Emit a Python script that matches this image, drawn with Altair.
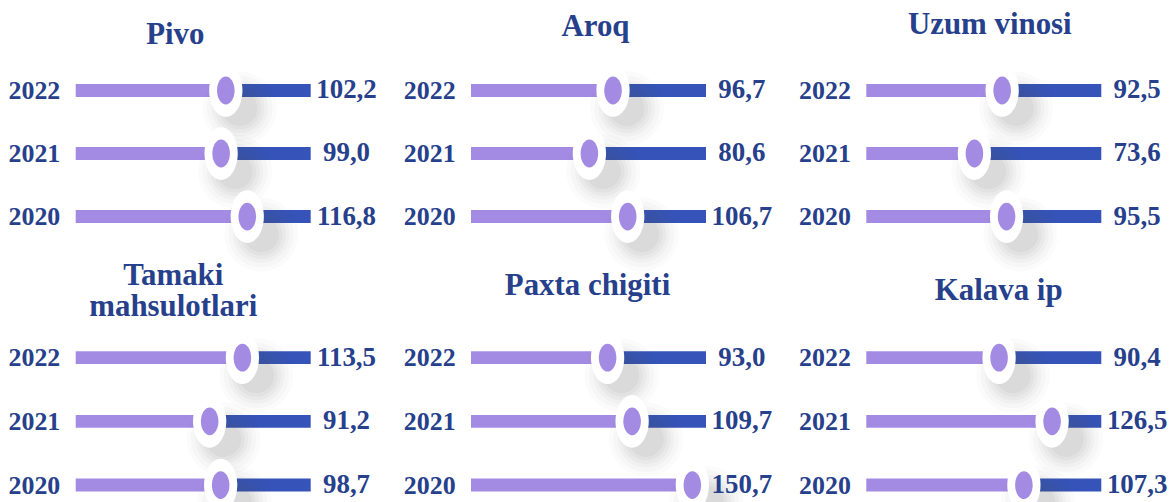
import altair as alt
import pandas as pd

# ---- data ----
years = ["2022", "2021", "2020"]
titles = ["Pivo", "Aroq", "Uzum vinosi", ["Tamaki", "mahsulotlari"], "Paxta chigiti", "Kalava ip"]
pivo = [102.2, 99.0, 116.8]
aroq = [96.7, 80.6, 106.7]
uzum_vinosi = [92.5, 73.6, 95.5]
tamaki = [113.5, 91.2, 98.7]
paxta_chigiti = [93.0, 109.7, 150.7]
kalava_ip = [90.4, 126.5, 107.3]
series = [pivo, aroq, uzum_vinosi, tamaki, paxta_chigiti, kalava_ip]
x_max = 160

# ---- style ----
NAVY = "#26408c"
LIGHT = "#a38be4"
DARK = "#3553b8"
FONT = "Liberation Serif"
ELLIPSE = "M0,-1A0.63,1 0 1,1 0,1A0.63,1 0 1,1 0,-1Z"
title_offsets = [8, 16, 18, 3, 24, 19]
title_dx = [-18, 7, 6, -20, -1, 15]
panel_heights = [190, 190, 190, 192, 192, 192]
shadow_layers = [(84, 0.025), (74, 0.03), (64, 0.035), (56, 0.04), (48, 0.045), (40, 0.05)]


def panel(title, vals, off, dx, h):
    df = pd.DataFrame({
        "year": years,
        "value": vals,
        "start": [0] * len(vals),
        "end": [x_max] * len(vals),
        "label": [f"{v:.1f}".replace(".", ",") for v in vals],
    })
    base = alt.Chart(df)
    xs = alt.Scale(domain=[0, x_max], nice=False, zero=False)
    ys = alt.Scale(type="point", domain=years, padding=0.5)
    y = alt.Y("year:N", scale=ys, axis=alt.Axis(
        title=None, domain=False, ticks=False, grid=False,
        labelFont=FONT, labelFontWeight="bold", labelFontSize=26,
        labelColor=NAVY, labelPadding=16))

    light = base.mark_rule(color=LIGHT, strokeWidth=13, strokeCap="butt").encode(
        x=alt.X("start:Q", scale=xs, axis=None), x2="value:Q", y=y)
    dark = base.mark_rule(color=DARK, strokeWidth=13, strokeCap="butt").encode(
        x=alt.X("value:Q", scale=xs, axis=None), x2="end:Q", y=y)
    shadows = [
        base.mark_point(shape="circle", filled=True, color="#555555", opacity=op,
                        size=3.1416 * (d / 2) ** 2, strokeWidth=0,
                        xOffset=14, yOffset=18).encode(
            x=alt.X("value:Q", scale=xs, axis=None), y=y)
        for d, op in shadow_layers
    ]
    knob = base.mark_point(shape=ELLIPSE, filled=True, fill="white", color="white",
                           opacity=1, size=53 * 53, strokeWidth=0).encode(
        x=alt.X("value:Q", scale=xs, axis=None), y=y)
    inner = base.mark_point(shape=ELLIPSE, filled=True, color=LIGHT,
                            opacity=1, size=28 * 28, strokeWidth=0).encode(
        x=alt.X("value:Q", scale=xs, axis=None), y=y)
    text = base.mark_text(align="center", baseline="middle", dx=36, font=FONT,
                          fontWeight="bold", fontSize=27, color=NAVY).encode(
        x=alt.X("end:Q", scale=xs, axis=None), y=y, text="label:N")

    return alt.layer(light, dark, *shadows, knob, inner, text).properties(
        width=236, height=h,
        title=alt.Title(title, font=FONT, fontSize=31, fontWeight="bold",
                        color=NAVY, offset=off, dx=dx, anchor="middle",
                        frame="group", lineHeight=31),
    )


panels = [panel(t, v, o, d, h) for t, v, o, d, h in
          zip(titles, series, title_offsets, title_dx, panel_heights)]
chart = alt.concat(*panels, columns=3, spacing={"row": 78, "column": 161},
                   bounds="flush").properties(
    padding={"left": 0, "top": 0, "right": 0, "bottom": 0},
    background="white",
).configure_view(stroke=None)

chart.save("out.html", embed_options={"renderer": "svg", "actions": False})
